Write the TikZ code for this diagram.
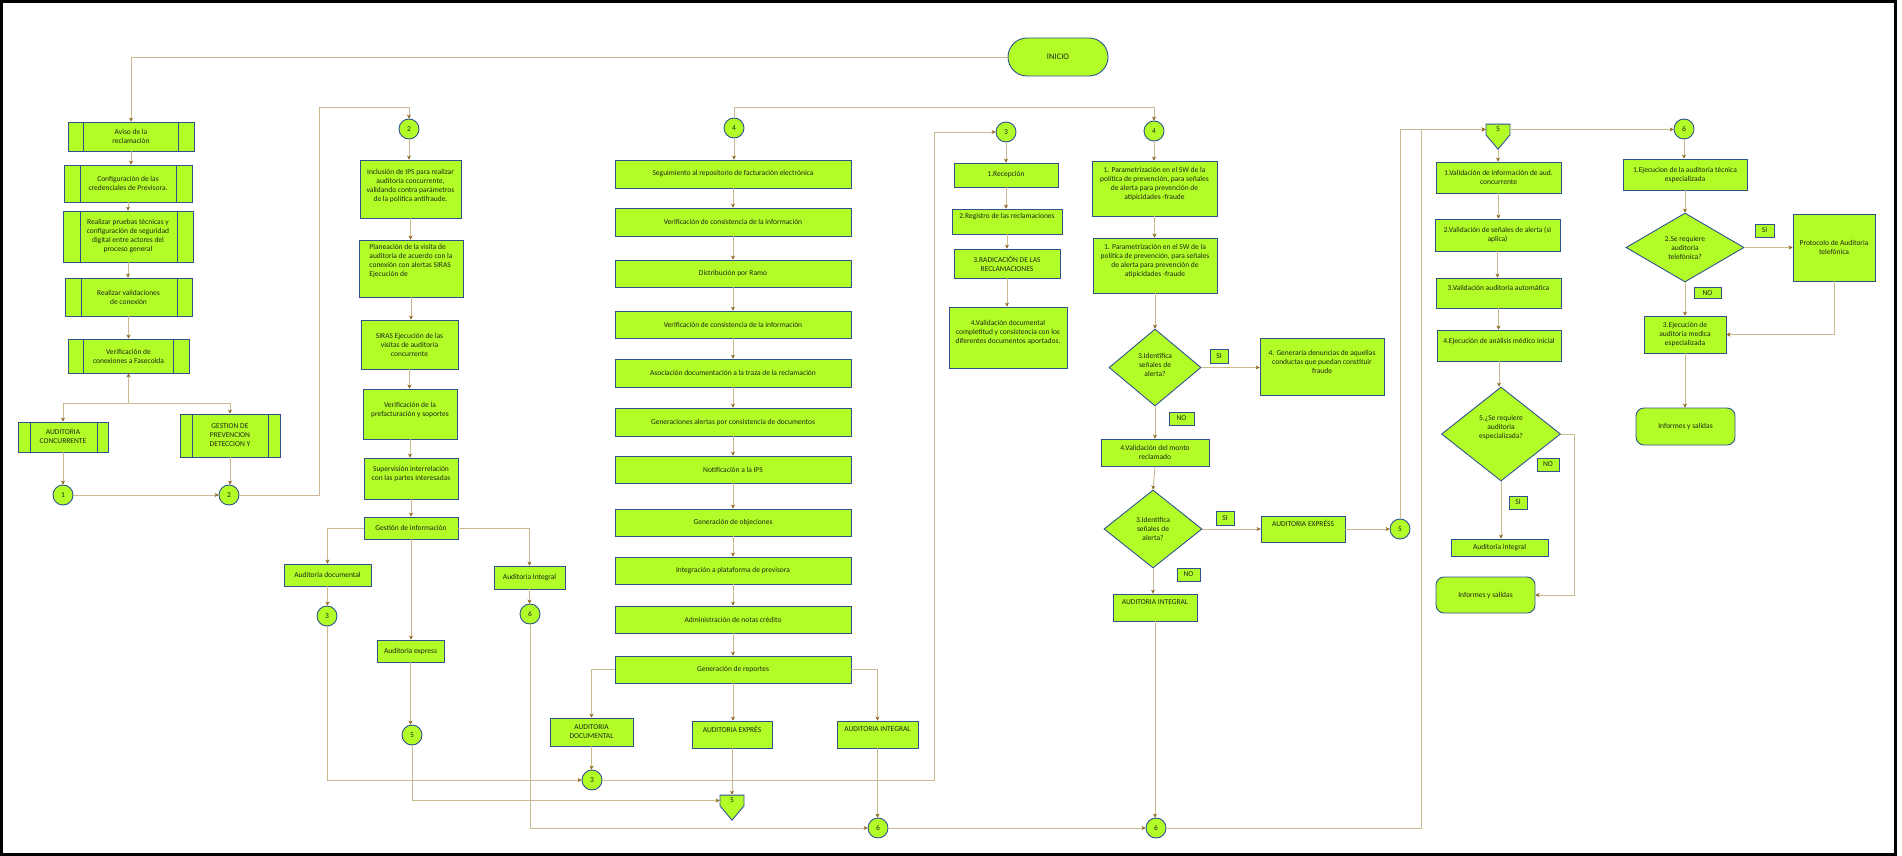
\documentclass[tikz,border=0pt]{standalone}
\usepackage{fontspec}
\setmainfont{Carlito}
\usetikzlibrary{shapes.geometric,shapes.symbols,arrows.meta,calc}
\definecolor{lime}{RGB}{178,252,40}
\definecolor{bord}{RGB}{47,82,143}
\definecolor{connc}{RGB}{200,185,145}
\definecolor{arr}{RGB}{140,100,30}
\definecolor{txt}{RGB}{30,40,20}
\tikzset{
 base/.style={draw=bord, fill=lime, line width=0.9pt, text=txt, font=\fontsize{7.5}{9}\selectfont, align=center, inner sep=1pt},
 box/.style 2 args={base, rectangle, minimum width=#1, minimum height=#2},
 sub/.style n args={4}{box={#1}{#2}, path picture={
   \draw[bord, line width=0.9pt] ([xshift=#3]path picture bounding box.north west) -- ([xshift=#3]path picture bounding box.south west);
   \draw[bord, line width=0.9pt] ([xshift=-#4]path picture bounding box.north east) -- ([xshift=-#4]path picture bounding box.south east);}},
 rbox/.style 2 args={box={#1}{#2}, rounded corners=8pt},
 cir/.style={base, circle, minimum size=20, inner sep=0},
 dia/.style 2 args={base, diamond, aspect=1.4, inner sep=0, minimum width=#1, minimum height=#2},
 lab/.style 2 args={box={#1}{#2}, inner sep=0},
 offp/.style={base, signal, signal to=south, signal from=nowhere, signal pointer angle=80, minimum width=24, minimum height=13, inner sep=0},
 cn/.style={draw=connc, line width=0.9pt, -{Stealth[length=4pt, width=4pt, color=arr]}},
 cnl/.style={draw=connc, line width=0.9pt}
}
\begin{document}
\begin{tikzpicture}[x=1pt, y=-1pt]
\useasboundingbox (0,0) rectangle (1902,856);
\draw[line width=3pt] (1.5,1.5) rectangle (1895.5,854.5);

% ---------- column 1
\node[box={100}{38}, rounded corners=19pt, font=\fontsize{8.5}{10}\selectfont] (inicio) at (1058,57) {INICIO};
\node[sub={126}{29}{15}{16}] (aviso) at (131,136.5) {Aviso de la\\reclamación};
\node[sub={128}{37}{16}{16}] (config) at (128,183.5) {Configuración de las\\credenciales de  Previsora.};
\node[sub={130}{51}{17}{16}] (pruebas) at (128,236.5) {Realizar pruebas técnicas y\\configuración de seguridad\\digital entre actores del\\proceso general};
\node[sub={127}{38}{16}{15}] (valid) at (128.5,297) {Realizar validaciones\\de conexión};
\node[sub={121}{34}{15}{16}] (verifc) at (128.5,356) {Verificación de\\conexiones a  Fasecolda};
\node[sub={90}{30}{12}{11}] (ac) at (63,437) {AUDITORIA\\CONCURRENTE};
\node[sub={100}{43}{12}{12}] (gestion) at (230,435.5) {GESTION DE\\PREVENCION\\DETECCION Y};
\node[cir] (c1) at (63,495) {1};
\node[cir] (c2) at (229,495) {2};
\coordinate (j1) at (128.5,403);

% ---------- column 2
\node[cir] (c2b) at (409,129) {2};
\node[box={101}{58}, text depth=8pt] (incl) at (410.5,189) {Inclusión de IPS para realizar\\auditoría concurrente,\\validando contra parámetros\\de la política antifraude.};
\node[box={104}{57}, align=left, text depth=16pt] (plan) at (411,268.5) {Planeación de la visita de\\auditoría de acuerdo con la\\conexión con alertas SIRAS\\Ejecución de};
\node[box={97}{49}] (siras) at (409.5,344.5) {SIRAS Ejecución de las\\visitas de auditoría\\concurrente};
\node[box={94}{50}, text depth=10pt] (verpre) at (410,414) {Verificación de la\\prefacturación y soportes};
\node[box={94}{41}, text depth=10pt] (superv) at (411,478.5) {Supervisión interrelación\\con las partes interesadas};
\node[box={94}{22}] (gestinfo) at (411,528) {Gestión de información};
\node[box={87}{22}] (auddoc) at (327.5,575) {Auditoria documental};
\node[box={67}{22}] (audexp) at (410.5,651) {Auditoria express};
\node[box={71}{23}] (audint) at (529.5,577.5) {Auditoria Integral};
\node[cir] (c3a) at (327,616) {3};
\node[cir] (c6a) at (530,614) {6};
\node[cir] (c5a) at (412,735) {5};

% ---------- column 3
\node[cir] (c4a) at (734,128) {4};
\node[box={236}{28}] (segui) at (733,174) {Seguimiento al repositorio de facturación electrónica};
\node[box={236}{28}] (verc1) at (733,222) {Verificación de consistencia de la información};
\node[box={236}{27}] (distr) at (733,273.5) {Distribución por Ramo};
\node[box={236}{27}] (verc2) at (733,324.5) {Verificación de consistencia de la información};
\node[box={236}{28}] (asoc) at (733,373) {Asociación documentación a la traza de la reclamación};
\node[box={236}{28}] (genal) at (733,422) {Generaciones alertas por consistencia de documentos};
\node[box={236}{27}] (notif) at (733,469.5) {Notificación a la IPS};
\node[box={236}{27}] (genob) at (733,522.5) {Generación de objeciones};
\node[box={236}{27}] (integ) at (733,570.5) {Integración a plataforma de previsora};
\node[box={236}{27}] (admin) at (733,619.5) {Administración de notas crédito};
\node[box={236}{27}] (genrep) at (733,669.5) {Generación de reportes};
\node[box={83}{28}] (AUDDOC) at (591.5,732) {AUDITORIA\\DOCUMENTAL};
\node[box={80}{27}, text depth=11pt] (AUDEXP) at (732,734.5) {AUDITORIA EXPRÉS};
\node[box={81}{27}, text depth=11pt] (AUDINT) at (877.5,734.5) {AUDITORIA INTEGRAL};
\node[cir] (c3b) at (592,780) {3};
\node[offp] (p5a) at (732,800.5) {5};
\node[cir] (c6b) at (878,828) {6};

% ---------- column 4
\node[cir] (c3c) at (1006,132) {3};
\node[cir] (c4b) at (1154,131) {4};
\node[box={104}{24}] (recep) at (1006,175) {1.Recepción};
\node[box={110}{25}, text depth=11pt] (regis) at (1007,221.5) {2.Registro de las reclamaciones};
\node[box={106}{29}] (radic) at (1007,263.5) {3.RADICACIÓN DE LAS\\RECLAMACIONES};
\node[box={118}{61}, text depth=11pt] (valdoc) at (1008,337.5) {4.Validación documental\\completitud y consistencia con los\\diferentes documentos aportados.};
\node[box={125}{55}, text depth=11pt] (param1) at (1154.5,188.5) {1. Parametrización en el SW de la\\política de prevención, para señales\\de alerta para prevención de\\atipicidades -fraude};
\node[box={124}{55}, text depth=10pt] (param2) at (1155,265.5) {1. Parametrización en el SW de la\\política de prevención, para señales\\de alerta para prevención de\\atipicidades -fraude};
\node[dia={92}{77}, text depth=6pt] (dia1) at (1155,367.5) {3.Identifica\\señales de\\alerta?};
\node[lab={18}{14}] (si1) at (1219,356) {SI};
\node[box={124}{57}, text depth=9pt] (generaria) at (1322,366.5) {4. Generaría denuncias de aquellas\\conductas que puedan constituir\\fraude};
\node[lab={25}{13}] (no1) at (1181.5,418.5) {NO};
\node[box={108}{27}] (valmon) at (1155,452.5) {4.Validación del monto\\reclamado};
\node[dia={98}{78}] (dia2) at (1153,529) {3.Identifica\\señales de\\alerta?};
\node[lab={18}{14}] (si2) at (1225,518) {SI};
\node[box={84}{26}, text depth=11pt] (audexps) at (1303,529) {AUDITORIA EXPRÉSS};
\node[cir] (c5b) at (1400,529) {5};
\node[lab={23}{13}] (no2) at (1188.5,574.5) {NO};
\node[box={84}{27}, text depth=11pt] (audintg) at (1155,607.5) {AUDITORIA INTEGRAL};
\node[cir] (c6c) at (1156,828) {6};

% ---------- column 5
\node[offp] (p5b) at (1498,129.5) {5};
\node[box={125}{31}] (valinf) at (1498.5,177.5) {1.Validación de información de aud.\\concurrente};
\node[box={125}{32}] (valsen) at (1497.5,235) {2.Validación de señales de alerta (si\\aplica)};
\node[box={125}{30}, text depth=11pt] (valaut) at (1498.5,293) {3.Validación auditoria automática};
\node[box={124}{31}, text depth=9pt] (ejean) at (1499,345.5) {4.Ejecución de análisis médico inicial};
\node[dia={119}{94}, text depth=14pt] (dia5) at (1501,434) {5.¿Se requiere\\auditoria\\especializada?};
\node[lab={22}{13}] (no5) at (1548,464.5) {NO};
\node[lab={18}{13}] (si5) at (1518,502.5) {SI};
\node[box={97}{17}] (audintg2) at (1499.5,547.5) {Auditoria integral};
\node[rbox={99}{36}] (inf1) at (1485.5,595) {Informes y salidas};

% ---------- column 6
\node[cir] (c6d) at (1684,129) {6};
\node[box={124}{31}] (ejtec) at (1685,174.5) {1.Ejecucion de la auditoria técnica\\especializada};
\node[dia={118}{69}] (dia7) at (1685,247.5) {2.Se requiere\\auditoria\\telefónica?};
\node[lab={19}{13}] (si7) at (1764.5,230.5) {SI};
\node[box={82}{67}] (proto) at (1834,247.5) {Protocolo de Auditoria\\telefónica};
\node[lab={27}{11}] (no7) at (1707.5,293) {NO};
\node[box={82}{37}] (ejmed) at (1685,334.5) {3.Ejecución de\\auditoria medica\\especializada};
\node[rbox={99}{37}] (inf2) at (1685.5,426.5) {Informes y salidas};

% ---------- connectors column 1
\draw[cn] (inicio.west) -| (aviso.north);
\draw[cn] (aviso.south) -- (aviso.south |- config.north);
\draw[cn] (config.south) -- (config.south |- pruebas.north);
\draw[cn] (pruebas.south) -- (pruebas.south |- valid.north);
\draw[cn] (valid.south) -- (valid.south |- verifc.north);
\draw[cn] (j1) -- (verifc.south);
\draw[cn] (j1) -| (ac.north);
\draw[cn] (j1) -| (gestion.north);
\draw[cn] (ac.south) -- (c1.north);
\draw[cn] (gestion.south) -- (gestion.south |- c2.north);
\draw[cn] (c1.east) -- (c2.west);
\draw[cn] (c2.east) -| (319,107) -| (c2b.north);

% ---------- connectors column 2
\draw[cn] (c2b.south) -- (c2b.south |- incl.north);
\draw[cn] (incl.south) -- (incl.south |- plan.north);
\draw[cn] (plan.south) -- (plan.south |- siras.north);
\draw[cn] (siras.south) -- (siras.south |- verpre.north);
\draw[cn] (verpre.south) -- (verpre.south |- superv.north);
\draw[cn] (superv.south) -- (superv.south |- gestinfo.north);
\draw[cn] (gestinfo.west) -| (auddoc.north);
\draw[cn] (gestinfo.south) -- (gestinfo.south |- audexp.north);
\draw[cn] (gestinfo.east) -| (audint.north);
\draw[cn] (auddoc.south) -- (auddoc.south |- c3a.north);
\draw[cn] (audint.south) -- (audint.south |- c6a.north);
\draw[cn] (audexp.south) -- (audexp.south |- c5a.north);
\draw[cn] (c3a.south) |- (c3b.west);
\draw[cn] (c5a.south) |- (p5a.west);
\draw[cn] (c6a.south) |- (c6b.west);

% ---------- connectors column 3
\draw[cn] (c4a.north) -- (c4a.north |- 0,107) -| (c4b.north);
\draw[cn] (c4a.south) -- (c4a.south |- segui.north);
\draw[cn] (segui.south) -- (verc1.north);
\draw[cn] (verc1.south) -- (distr.north);
\draw[cn] (distr.south) -- (verc2.north);
\draw[cn] (verc2.south) -- (asoc.north);
\draw[cn] (asoc.south) -- (genal.north);
\draw[cn] (genal.south) -- (notif.north);
\draw[cn] (notif.south) -- (genob.north);
\draw[cn] (genob.south) -- (integ.north);
\draw[cn] (integ.south) -- (admin.north);
\draw[cn] (admin.south) -- (genrep.north);
\draw[cn] (genrep.west) -| (AUDDOC.north);
\draw[cn] (genrep.south) -- (genrep.south |- AUDEXP.north);
\draw[cn] (genrep.east) -| (AUDINT.north);
\draw[cn] (AUDDOC.south) -- (AUDDOC.south |- c3b.north);
\draw[cn] (AUDEXP.south) -- (p5a.north);
\draw[cn] (AUDINT.south) -- (AUDINT.south |- c6b.north);
\draw[cn] (c3b.east) -- (934,780) |- (c3c.west);
\draw[cn] (c6b.east) -- (c6c.west);

% ---------- connectors column 4
\draw[cn] (c3c.south) -- (c3c.south |- recep.north);
\draw[cn] (recep.south) -- (recep.south |- regis.north);
\draw[cn] (regis.south) -- (regis.south |- radic.north);
\draw[cn] (radic.south) -- (radic.south |- valdoc.north);
\draw[cn] (c4b.south) -- (c4b.south |- param1.north);
\draw[cn] (param1.south) -- (param1.south |- param2.north);
\draw[cn] (param2.south) -- (dia1.north);
\draw[cn] (dia1.east) -- (dia1.east -| generaria.west);
\draw[cn] (dia1.south) -- (valmon.north);
\draw[cn] (valmon.south) -- (dia2.north);
\draw[cn] (dia2.east) -- (audexps.west);
\draw[cn] (audexps.east) -- (c5b.west);
\draw[cn] (dia2.south) -- (dia2.south |- audintg.north);
\draw[cn] (audintg.south) -- (audintg.south |- c6c.north);
\draw[cn] (c5b.north) |- (p5b.west);
\draw[cn] (c6c.east) -- (1421,828) |- (p5b.west);

% ---------- connectors column 5
\draw[cn] (p5b.south) -- (p5b.south |- valinf.north);
\draw[cn] (valinf.south) -- (valinf.south |- valsen.north);
\draw[cn] (valsen.south) -- (valsen.south |- valaut.north);
\draw[cn] (valaut.south) -- (valaut.south |- ejean.north);
\draw[cn] (ejean.south) -- (ejean.south |- dia5.north);
\draw[cn] (dia5.south) -- (dia5.south |- audintg2.north);
\draw[cn] (dia5.east) -- ++(13,0) |- (inf1.east);
\draw[cn] (p5b.east) -- (p5b.east -| c6d.west);

% ---------- connectors column 6
\draw[cn] (c6d.south) -- (c6d.south |- ejtec.north);
\draw[cn] (ejtec.south) -- (ejtec.south |- dia7.north);
\draw[cn] (dia7.east) -- (proto.west);
\draw[cn] (dia7.south) -- (dia7.south |- ejmed.north);
\draw[cn] (proto.south) |- (ejmed.east);
\draw[cn] (ejmed.south) -- (ejmed.south |- inf2.north);
\end{tikzpicture}
\end{document}
